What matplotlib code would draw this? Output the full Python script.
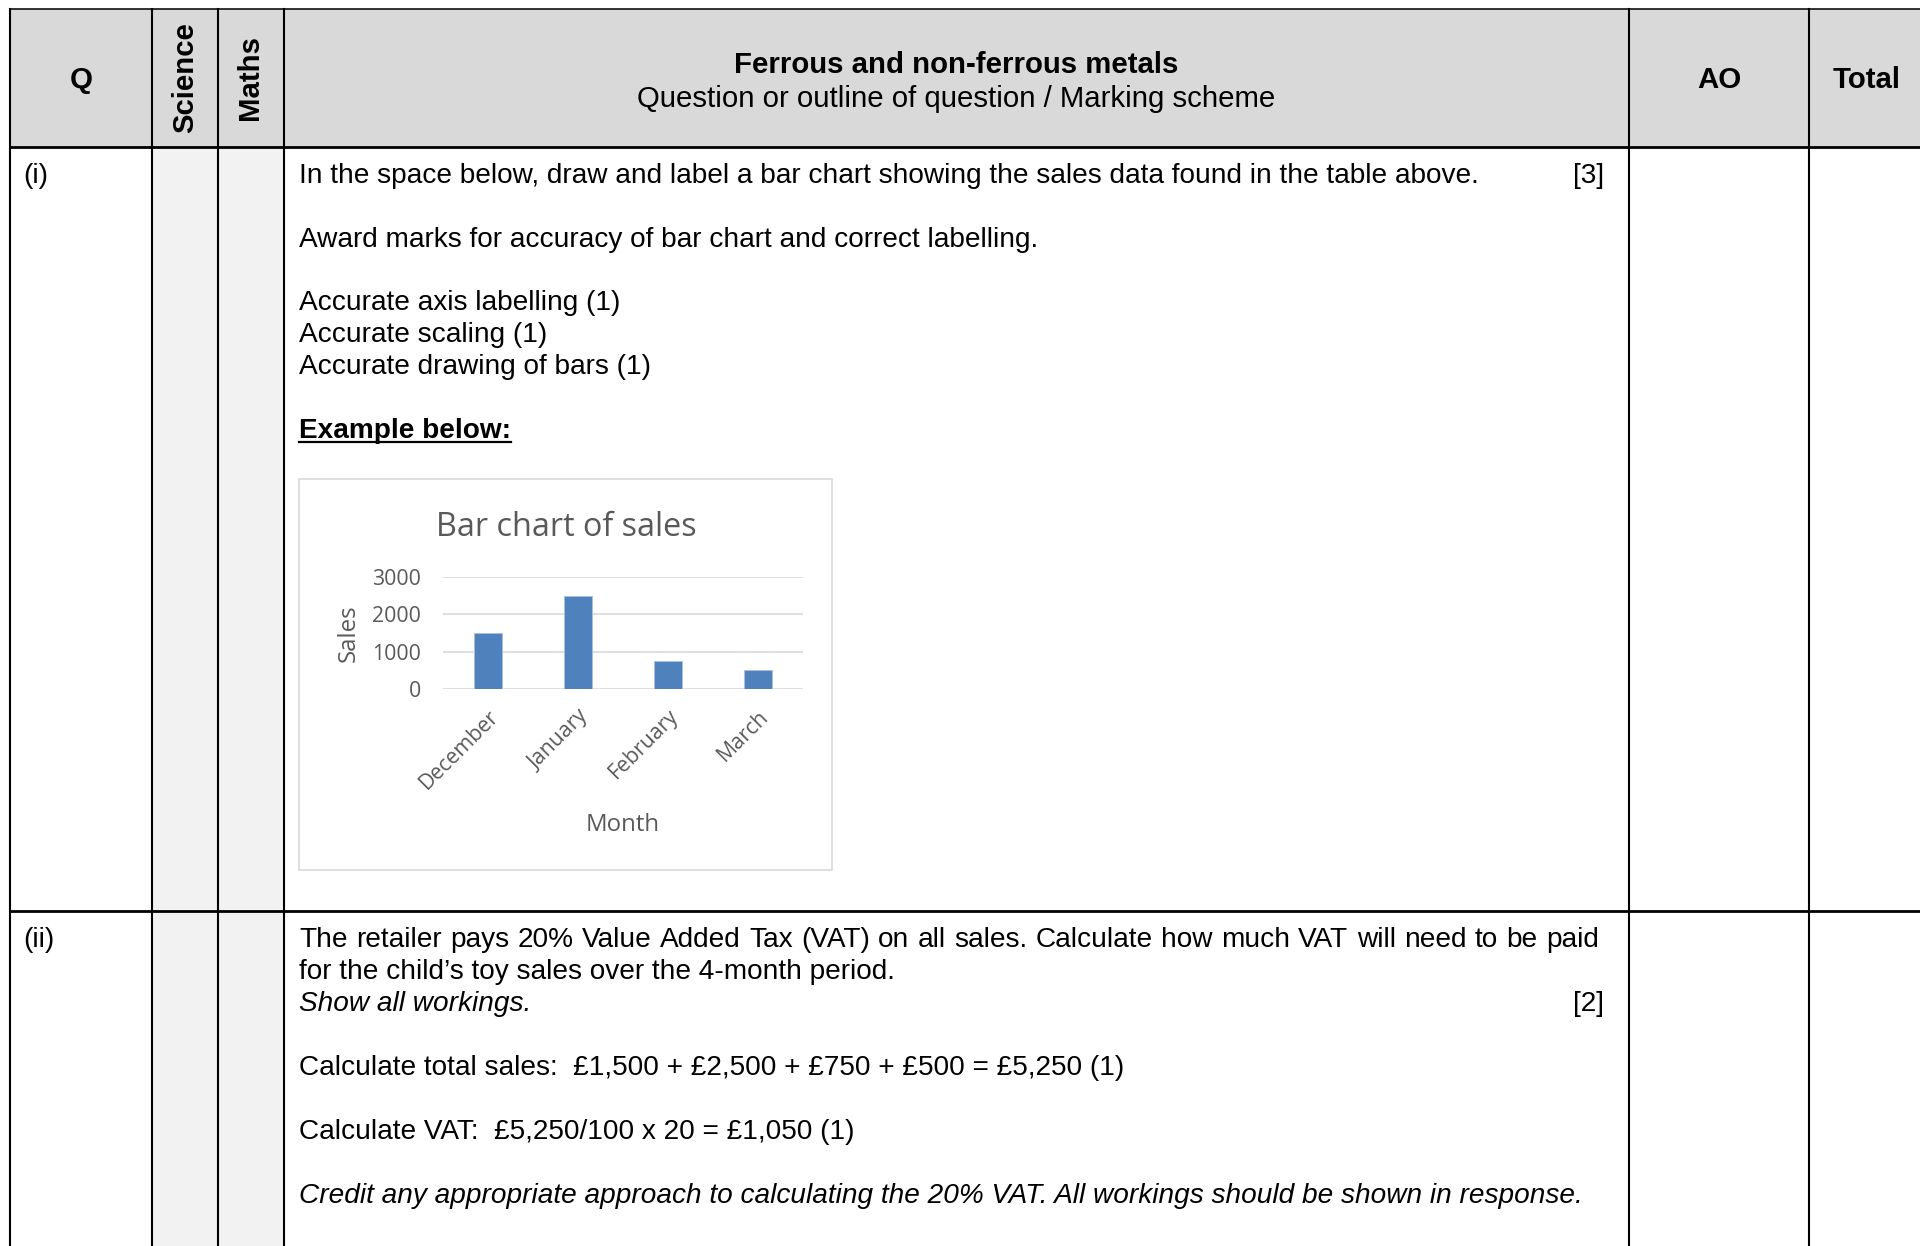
import matplotlib.pyplot as plt
from matplotlib.patches import Rectangle

# chart data
months = ["December", "January", "February", "March"]
sales = [1500, 2500, 750, 500]
y_ticks = [0, 1000, 2000, 3000]

# table layout (pixels)
col_x = [10, 152, 218, 284, 1629, 1809]
top_y = 9
head_y = 147
row_y = 911
W, H = 1920, 1246

body = "Liberation Sans"
chart_font = "Open Sans"
fs = 20.2
hfs = 21.2

fig = plt.figure(figsize=(19.2, 12.46), dpi=100)
ax = fig.add_axes([0, 0, 1, 1])
ax.set_xlim(0, W)
ax.set_ylim(H, 0)
ax.axis("off")


def justified(x0, x1, y, line):
    # spread the words of one line between x0 and x1, like Word does
    words = line.split(" ")
    r = fig.canvas.get_renderer()
    arts = [ax.text(0, y, w, family=body, fontsize=fs, va="baseline") for w in words]
    widths = [a.get_window_extent(r).width for a in arts]
    gap = (x1 - x0 - sum(widths)) / (len(words) - 1)
    x = x0
    for a, w in zip(arts, widths):
        a.set_x(x)
        x += w + gap


# backgrounds
ax.add_patch(Rectangle((col_x[0], top_y), W - col_x[0], head_y - top_y, color="#d9d9d9", zorder=0))
ax.add_patch(Rectangle((col_x[1], head_y), col_x[3] - col_x[1], H - head_y, color="#f2f2f2", zorder=0))

# grid lines
ax.plot([col_x[0], W], [top_y, top_y], color="black", lw=1.1)
ax.plot([col_x[0], W], [head_y, head_y], color="black", lw=2)
ax.plot([col_x[0], W], [row_y, row_y], color="black", lw=2)
for x in col_x:
    ax.plot([x, x], [top_y, H], color="black", lw=1.5)

# header
ax.text(81, 80, "Q", family=body, fontsize=hfs, weight="bold", ha="center", va="center")
ax.text(185, 78, "Science", family=body, fontsize=hfs, weight="bold", ha="center", va="center", rotation=90)
ax.text(250, 78, "Maths", family=body, fontsize=hfs, weight="bold", ha="center", va="center", rotation=90)
ax.text(956, 65, "Ferrous and non-ferrous metals", family=body, fontsize=hfs, weight="bold", ha="center", va="center")
ax.text(956, 99, "Question or outline of question / Marking scheme", family=body, fontsize=hfs, ha="center", va="center")
ax.text(1719, 80, "AO", family=body, fontsize=hfs, weight="bold", ha="center", va="center")
ax.text(1867, 80, "Total", family=body, fontsize=hfs, weight="bold", ha="center", va="center")

# row (i)
tx = 299
ax.text(23, 183, "(i)", family=body, fontsize=fs, va="baseline")
ax.text(tx, 183, "In the space below, draw and label a bar chart showing the sales data found in the table above.",
        family=body, fontsize=fs, va="baseline")
ax.text(1604, 183, "[3]", family=body, fontsize=fs, va="baseline", ha="right")
ax.text(tx, 247, "Award marks for accuracy of bar chart and correct labelling.", family=body, fontsize=fs, va="baseline")
ax.text(tx, 310, "Accurate axis labelling (1)", family=body, fontsize=fs, va="baseline")
ax.text(tx, 342, "Accurate scaling (1)", family=body, fontsize=fs, va="baseline")
ax.text(tx, 374, "Accurate drawing of bars (1)", family=body, fontsize=fs, va="baseline")
ex = ax.text(tx, 438, "Example below:", family=body, fontsize=fs, weight="bold", va="baseline")
fig.canvas.draw()
bb = ex.get_window_extent()
ax.plot([tx, tx + bb.width], [442, 442], color="black", lw=1.6)

# row (ii)
ax.text(23, 947, "(ii)", family=body, fontsize=fs, va="baseline")
justified(tx, 1599, 947,
          "The retailer pays 20% Value Added Tax (VAT) on all sales. Calculate how much VAT will need to be paid")
ax.text(tx, 979, "for the child\u2019s toy sales over the 4-month period.", family=body, fontsize=fs, va="baseline")
ax.text(tx, 1011, "Show all workings.", family=body, fontsize=fs, style="italic", va="baseline")
ax.text(1604, 1011, "[2]", family=body, fontsize=fs, va="baseline", ha="right")
ax.text(tx, 1075, "Calculate total sales:  \u00a31,500 + \u00a32,500 + \u00a3750 + \u00a3500 = \u00a35,250 (1)",
        family=body, fontsize=fs, va="baseline")
ax.text(tx, 1139, "Calculate VAT:  \u00a35,250/100 x 20 = \u00a31,050 (1)", family=body, fontsize=fs, va="baseline")
ax.text(tx, 1203, "Credit any appropriate approach to calculating the 20% VAT. All workings should be shown in response.",
        family=body, fontsize=fs, style="italic", va="baseline")

# chart box
ax.add_patch(Rectangle((299, 479), 533, 391, facecolor="white", edgecolor="#d9d9d9", lw=1.2, zorder=1))

# bar chart
cx = fig.add_axes([443 / W, 1 - 689 / H, 360 / W, 112 / H])
cx.bar(range(len(months)), sales, width=0.31, color="#4f81bd", edgecolor="#a9c1e0", lw=0.6, zorder=3)
cx.set_xlim(-0.5, len(months) - 0.5)
cx.set_ylim(0, 3000)
cx.set_yticks(y_ticks)
cx.set_yticklabels([str(v) for v in y_ticks], family=chart_font, fontsize=15.3, color="#595959")
cx.set_xticks(range(len(months)))
cx.set_xticklabels(months, family=chart_font, fontsize=15.3, color="#595959",
                   rotation=45, ha="right", va="top", rotation_mode="anchor")
cx.tick_params(length=0)
cx.tick_params(axis="y", pad=16)
cx.tick_params(axis="x", pad=12)
cx.grid(axis="y", color="#d9d9d9", lw=1.2, zorder=0)
for s in cx.spines.values():
    s.set_visible(False)
cx.set_facecolor("none")
cx.set_ylabel("Sales", family=chart_font, fontsize=17.3, color="#595959")
cx.set_xlabel("Month", family=chart_font, fontsize=17.3, color="#595959")
cx.xaxis.set_label_coords(0.5, (689 - 813) / 112)
cx.yaxis.set_label_coords((361 - 443) / 360, 0.5)
ax.text(566, 527, "Bar chart of sales", family=chart_font, fontsize=23.3, color="#595959", ha="center", va="center")

fig.savefig("out.png", dpi=100)
